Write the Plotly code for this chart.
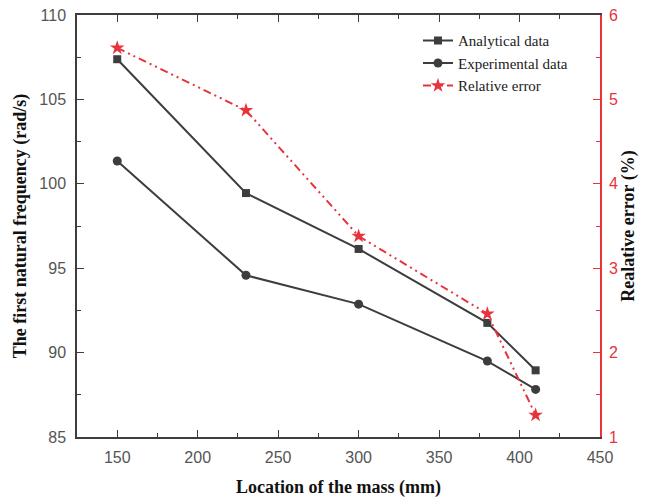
import plotly.graph_objects as go

# location of the mass (mm)
location = [150, 230, 300, 380, 410]
analytical = [107.38, 99.45, 96.14, 91.76, 88.95]
experimental = [101.35, 94.58, 92.87, 89.5, 87.82]
rel_error = [5.61, 4.87, 3.38, 2.46, 1.26]

dark = "#3d3d3d"
red = "#e8333c"
tickfont = dict(family="Liberation Sans, Arial", size=16, color="#555555")
titlefont = dict(family="Liberation Serif, Times New Roman", size=18, color="#111111")

fig = go.Figure()
fig.add_trace(go.Scatter(x=location, y=analytical, name="Analytical data", mode="lines+markers",
                         line=dict(color=dark, width=2), marker=dict(symbol="square", size=8, color=dark)))
fig.add_trace(go.Scatter(x=location, y=experimental, name="Experimental data", mode="lines+markers",
                         line=dict(color=dark, width=2), marker=dict(symbol="circle", size=9, color=dark)))
fig.add_trace(go.Scatter(x=location, y=rel_error, name="Relative error", mode="lines+markers", yaxis="y2",
                         line=dict(color=red, width=2, dash="8px,4px,2px,4px,2px,4px"),
                         marker=dict(symbol="star", size=11, color=red)))

# page body has an 8px margin, so the figure is a little smaller than the window
fig.update_layout(
    width=640, height=495,
    margin=dict(l=69, r=48, t=7, b=66, autoexpand=False),
    plot_bgcolor="white", paper_bgcolor="white",
    showlegend=True,
    legend=dict(x=0.652, y=0.978, xanchor="left", yanchor="top", bgcolor="rgba(0,0,0,0)",
                font=dict(family="Liberation Serif, Times New Roman", size=15, color="#222222"),
                tracegroupgap=0),
    xaxis=dict(range=[125, 450], dtick=50, tick0=150, showline=True, linecolor=dark, linewidth=1.5,
               mirror="ticks", ticks="inside", ticklen=7, tickcolor=dark, automargin=False,
               minor=dict(ticks="inside", dtick=25, tick0=125, ticklen=4, tickcolor=dark),
               showgrid=False, zeroline=False, tickfont=tickfont, ticklabelstandoff=5,
               ticklabeloverflow="allow",
               title=dict(text="<b>Location of the mass (mm)</b>", font=titlefont, standoff=15)),
    yaxis=dict(range=[85, 110], dtick=5, showline=True, linecolor=dark, linewidth=1.5,
               ticks="inside", ticklen=7, tickcolor=dark, automargin=False,
               minor=dict(ticks="inside", dtick=2.5, ticklen=4, tickcolor=dark),
               showgrid=False, zeroline=False, tickfont=tickfont, ticklabelstandoff=6,
               ticklabeloverflow="allow",
               title=dict(text="<b>The first natural frequency (rad/s)</b>", font=titlefont, standoff=8)),
    yaxis2=dict(range=[1, 6], dtick=1, overlaying="y", side="right", showline=True, linecolor=red,
                linewidth=1.5, ticks="inside", ticklen=7, tickcolor=red, automargin=False,
                minor=dict(ticks="inside", dtick=0.5, ticklen=4, tickcolor=red),
                showgrid=False, zeroline=False, ticklabelstandoff=4, ticklabeloverflow="allow",
                tickfont=dict(family="Liberation Sans, Arial", size=16, color=red),
                title=dict(text="<b>Realative error (%)</b>", font=titlefont, standoff=2)),
)

fig.write_html("out.html")
